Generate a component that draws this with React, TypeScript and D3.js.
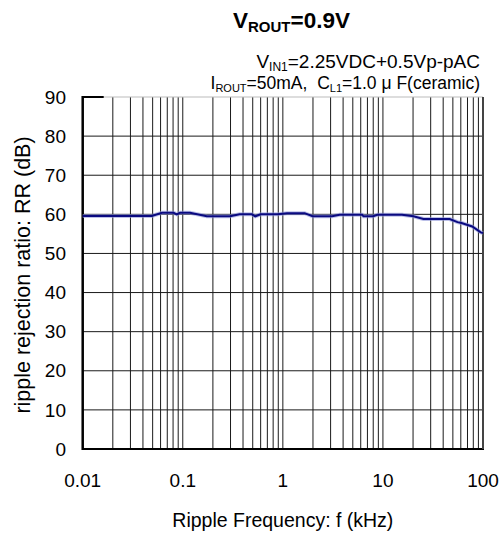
import React from "react";
import * as d3 from "d3";

const freqKHz = [0.01, 0.049, 0.062, 0.081, 0.087, 0.094, 0.118, 0.174, 0.297, 0.37, 0.49, 0.53, 0.6, 0.89, 1.1, 1.65, 1.98, 3.1, 3.7, 6.2, 6.4, 8.0, 8.8, 15.5, 20.2, 25.4, 46.5, 55.6, 61, 78, 95, 100];
const rrDb = [59.6, 59.6, 60.4, 60.4, 60.0, 60.4, 60.4, 59.5, 59.5, 60.0, 60.0, 59.5, 60.0, 60.0, 60.3, 60.3, 59.5, 59.5, 59.9, 59.9, 59.5, 59.5, 59.9, 59.9, 59.5, 58.8, 58.8, 58.0, 57.8, 56.9, 55.4, 55.2];
const xTickValues = [0.01, 0.1, 1, 10, 100];
const xTickLabels = ["0.01", "0.1", "1", "10", "100"];
const yTickValues = [0, 10, 20, 30, 40, 50, 60, 70, 80, 90];

const W = 504;
const H = 540;
const L = 82.7, R = 483, T = 97, B = 449;
const FONT = "'Liberation Sans', Arial, sans-serif";

export default function App() {
  const x = d3.scaleLog().domain([0.01, 100]).range([L, R]);
  const y = d3.scaleLinear().domain([0, 90]).range([B, T]);
  const minor: number[] = [];
  for (let e = -2; e < 2; e++) {
    for (let m = 1; m <= 9; m++) minor.push(m * Math.pow(10, e));
  }
  minor.push(100);
  const pts: [number, number][] = freqKHz.map((f, i) => [f, rrDb[i]]);
  const line = d3.line<[number, number]>().x(d => x(d[0])).y(d => y(d[1]));
  const path = line(pts) || "";

  return (
    <svg width={W} height={H} style={{ position: "absolute", left: 0, top: 0, background: "#fff" }} fontFamily={FONT}>
      <rect x={0} y={0} width={W} height={H} fill="#fff" />
      {minor.map((v, i) => (
        <line key={"v" + i} x1={x(v)} x2={x(v)} y1={T} y2={B} stroke="#1a1a1a" strokeWidth={1} />
      ))}
      {yTickValues.filter(v => v > 0 && v < 90).map(v => (
        <line key={"h" + v} x1={L} x2={R} y1={y(v)} y2={y(v)} stroke="#1a1a1a" strokeWidth={1} />
      ))}
      <line x1={L} x2={R} y1={y(90)} y2={y(90)} stroke="#bbb" strokeWidth={1} />
      <line x1={L} x2={L + 21} y1={y(90)} y2={y(90)} stroke="#000" strokeWidth={2} />
      <line x1={L} x2={L} y1={T - 1} y2={B + 1} stroke="#000" strokeWidth={2.5} />
      <line x1={L} x2={R + 1} y1={B} y2={B} stroke="#000" strokeWidth={2} />
      <line x1={R} x2={R} y1={T} y2={B} stroke="#444" strokeWidth={2} />
      <path d={path} fill="none" stroke="#8f96d8" strokeOpacity={0.6} strokeWidth={4} />
      <path d={path} fill="none" stroke="#0a0a80" strokeWidth={2} />
      {yTickValues.map(v => (
        <text key={"yt" + v} x={66} y={y(v)} dy="0.35em" textAnchor="end" fontSize={19} fill="#000">{v}</text>
      ))}
      {xTickValues.map((v, i) => (
        <text key={"xt" + v} x={x(v)} y={487} textAnchor="middle" fontSize={19} fill="#000">{xTickLabels[i]}</text>
      ))}
      <text x={(L + R) / 2} y={527} textAnchor="middle" fontSize={19.5} fill="#000">Ripple Frequency: f (kHz)</text>
      <text transform={`translate(30, 275) rotate(-90)`} textAnchor="middle" fontSize={21.5} fill="#000">ripple rejection ratio: RR (dB)</text>
      <text x={233} y={28} fontSize={22.5} fontWeight="bold" fill="#000">
        V<tspan fontSize={15} dy={4}>ROUT</tspan><tspan dy={-4}>=0.9V</tspan>
      </text>
      <text x={480} y={68} textAnchor="end" fontSize={19} fill="#000">
        V<tspan fontSize={12} dy={3}>IN1</tspan><tspan dy={-3}>=2.25VDC+0.5Vp-pAC</tspan>
      </text>
      <text x={480} y={89} textAnchor="end" fontSize={17.5} fill="#000">
        I<tspan fontSize={11} dy={3}>ROUT</tspan><tspan dy={-3}>=50mA,{"\u00a0 "}C</tspan><tspan fontSize={11} dy={3}>L1</tspan><tspan dy={-3}>=1.0 μ F(ceramic)</tspan>
      </text>
    </svg>
  );
}
